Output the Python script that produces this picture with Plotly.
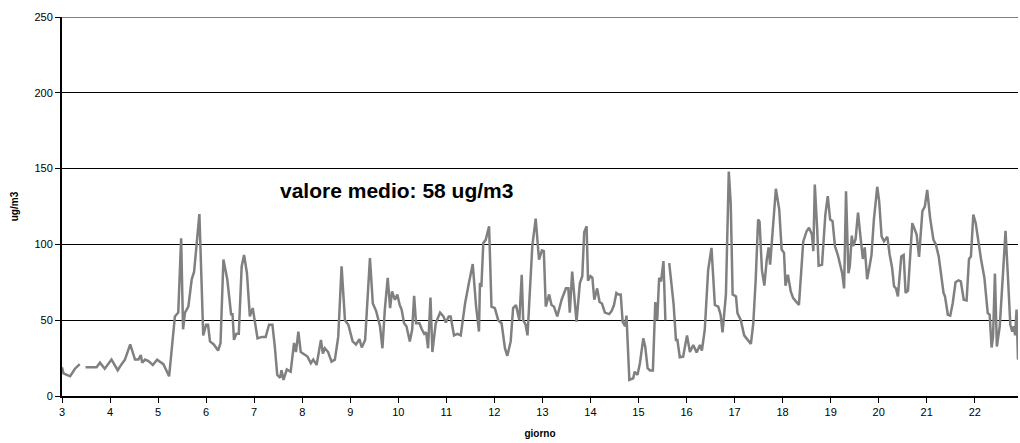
import plotly.graph_objects as go

# Time (decimal day of month) and concentration (ug/m3); None = missing data
giorno = [3.00, 3.03, 3.10, 3.17, 3.27, 3.37, 3.43,
          3.49, 3.62, 3.72, 3.79, 3.89, 4.03, 4.16, 4.24, 4.31, 4.42, 4.52, 4.59, 4.64, 4.67,
          4.73, 4.80, 4.89, 4.98, 5.11, 5.23, 5.35, 5.42, 5.48, 5.52, 5.56, 5.63, 5.70, 5.75,
          5.86, 5.94, 6.00, 6.04, 6.08, 6.16, 6.25, 6.30, 6.36, 6.44, 6.52, 6.55, 6.58, 6.63,
          6.68, 6.74, 6.79, 6.85, 6.91, 6.97, 7.00, 7.07, 7.16, 7.24, 7.31, 7.38, 7.43, 7.48,
          7.54, 7.57, 7.61, 7.68, 7.76, 7.83, 7.87, 7.92, 7.97, 8.02, 8.11, 8.18, 8.23, 8.30,
          8.35, 8.39, 8.43, 8.47, 8.54, 8.61, 8.68, 8.75, 8.82, 8.89, 8.96, 9.05, 9.12, 9.19,
          9.24, 9.31, 9.41, 9.47, 9.54, 9.62, 9.67, 9.72, 9.78, 9.83, 9.87, 9.93, 9.98, 10.03,
          10.07, 10.12, 10.17, 10.24, 10.29, 10.33, 10.37, 10.44, 10.49, 10.54, 10.58, 10.62,
          10.67, 10.71, 10.78, 10.87, 10.94, 10.99, 11.05, 11.09, 11.16, 11.23, 11.30, 11.39,
          11.47, 11.55, 11.62, 11.68, 11.70, 11.73, 11.77, 11.82, 11.89, 11.94, 12.01, 12.08,
          12.15, 12.22, 12.27, 12.34, 12.39, 12.45, 12.52, 12.57, 12.60, 12.65, 12.69, 12.74,
          12.79, 12.86, 12.93, 12.99, 13.03, 13.07, 13.14, 13.19, 13.24, 13.31, 13.40, 13.49,
          13.54, 13.57, 13.62, 13.71, 13.78, 13.83, 13.87, 13.92, 13.95, 14.00, 14.04, 14.08,
          14.14, 14.19, 14.24, 14.30, 14.39, 14.44, 14.49, 14.54, 14.58, 14.63, 14.67, 14.72,
          14.75, 14.81, 14.89, 14.92, 14.98, 15.03, 15.10, 15.14, 15.19, 15.24, 15.30, 15.35,
          15.39, 15.43, 15.47, 15.52, 15.56, 15.60,
          15.64, 15.73, 15.78, 15.81, 15.86, 15.93, 16.01, 16.07, 16.14, 16.21, 16.28, 16.32,
          16.38, 16.45, 16.52, 16.59, 16.66, 16.71, 16.75, 16.82, 16.88, 16.92, 16.96, 17.03,
          17.06, 17.13, 17.20, 17.27, 17.34, 17.39, 17.44, 17.49, 17.52, 17.57, 17.62, 17.67,
          17.71, 17.74, 17.79, 17.86, 17.93, 17.98, 18.03, 18.06, 18.11, 18.17, 18.22, 18.29,
          18.34, 18.43, 18.50, 18.55, 18.61, 18.64, 18.67, 18.72, 18.75, 18.82, 18.85, 18.89,
          18.94, 18.99, 19.04, 19.09, 19.15, 19.20, 19.24, 19.28, 19.32, 19.37, 19.40, 19.44,
          19.47, 19.52, 19.57, 19.62, 19.67, 19.71, 19.76, 19.81, 19.85, 19.90, 19.97, 20.01,
          20.06, 20.11, 20.18, 20.23, 20.28, 20.32, 20.36, 20.40, 20.47, 20.52, 20.56, 20.61,
          20.70, 20.79, 20.84, 20.91, 20.96, 21.01, 21.07, 21.14, 21.19, 21.25, 21.30, 21.35,
          21.38, 21.44, 21.49, 21.54, 21.60, 21.66, 21.71, 21.77, 21.83, 21.88, 21.92, 21.97,
          22.02, 22.07, 22.13, 22.20, 22.27, 22.31, 22.35, 22.38, 22.42, 22.46, 22.52, 22.59,
          22.64, 22.69, 22.74, 22.78, 22.81, 22.84, 22.87, 22.90]

concentrazione = [19, 15, 14, 13, 18, 21, None,
                  19, 19, 19, 22, 18, 24, 17, 21, 24, 34, 24, 24, 27, 22,
                  24, 23, 20.5, 24, 21, 13, 52.5, 55, 104, 44, 55, 59, 77, 82,
                  120, 40, 47, 47, 36, 34, 30, 35, 90, 77, 54, 54, 37, 41,
                  41, 85.5, 93, 81, 52.5, 58, 52.5, 38, 39, 39, 47, 47, 32.6, 14,
                  12, 17, 10.6, 17.6, 16, 35, 29, 42.5, 29, 28, 26, 21.6, 24, 20.5,
                  29, 37, 28, 31.5, 29, 22.7, 24, 39, 85.5, 50, 47, 36, 34, 37.5,
                  32, 37, 91, 61, 56, 46, 31.5, 57, 78, 58, 69, 63.5, 67, 60,
                  57, 48, 46, 36, 44, 66, 48, 48, 44, 41, 42, 31.5,
                  65, 29, 48, 55, 52.5, 48.5, 52.5, 52.5, 40, 41, 40, 61,
                  74.5, 87, 59, 42.5, 74.5, 72, 101, 103, 112, 59, 58, 50,
                  48, 31.5, 26.5, 36, 58, 60, 50, 80, 50, 47, 40, 70,
                  99, 117, 90, 96, 95.5, 59, 67, 60, 59, 52.5, 63.5, 71,
                  71, 55, 82, 49, 74.5, 79, 108, 112, 76, 79, 78, 63.5,
                  71, 62, 61, 55, 54, 56, 60, 68, 67, 67, 49, 46,
                  53, 10.6, 11.7, 16, 14, 21.6, 38, 32.6, 18.3, 16.8, 16.8, 62,
                  50, 78, 75.6, 89, 50, None,
                  87.7, 61, 37, 37, 25.6, 26, 40, 29, 33.7, 28.7, 33.7, 30,
                  43.7, 83, 97.7, 60, 59, 53.6, 42, 67, 148, 127, 67, 65.7,
                  54.7, 50, 40, 37, 34.4, 48, 76.7, 116.4, 115, 83, 72.8, 90,
                  98, 86.6, 108.7, 136.7, 123, 96.6, 94.4, 72.8, 80, 69, 64.6, 61.7,
                  60, 102, 108.7, 111, 106.5, 95.5, 139.5, 110, 86, 86.6, 98.8, 119.7,
                  131.8, 116.4, 115.3, 98.8, 93, 85.5, 81, 71, 135, 81, 86, 105.8,
                  98.8, 103.6, 121, 105.4, 90.4, 98, 77, 85.5, 93, 116.4, 138, 128.5,
                  105.4, 102, 105, 93, 84.4, 72.3, 71, 65.7, 92, 93, 68, 69.5,
                  114, 106.5, 91.7, 122, 125, 136, 117.5, 103, 100, 92, 80, 68,
                  65.7, 53.6, 53, 61, 75, 76.3, 75.6, 63.5, 63, 90.4, 92, 119.7,
                  114, 103, 90.4, 78, 54.7, 53.6, 32, 39, 80.7, 32.6, 46, 82,
                  109, 79, 47, 42.5, 46, 40, 57, 24]

tick_giorni = list(range(3, 23))
tick_y = [0, 50, 100, 150, 200, 250]
media_testo = "valore medio: 58 ug/m3"

FONT = "Liberation Sans, Arial, sans-serif"

fig = go.Figure()
fig.add_trace(go.Scatter(
    x=giorno, y=concentrazione, mode="lines",
    line=dict(color="#808080", width=2.5),
    connectgaps=False, showlegend=False, hoverinfo="skip"))

fig.add_shape(type="line", xref="paper", yref="y", x0=0, x1=1, y0=250, y1=250,
              line=dict(color="#808080", width=2))

fig.add_annotation(x=9.96, y=135.5, xref="x", yref="y", text="<b>" + media_testo + "</b>",
                   showarrow=False, font=dict(family=FONT, size=21, color="black"))

fig.update_layout(
    width=1020, height=443,
    margin=dict(l=62, r=2, t=17, b=47),
    paper_bgcolor="white", plot_bgcolor="white",
    font=dict(family=FONT, size=11, color="black"),
    xaxis=dict(range=[3, 22.9], tickmode="array", tickvals=tick_giorni,
               ticktext=[str(t) for t in tick_giorni],
               showgrid=False, zeroline=False, showline=True, linecolor="black", linewidth=1.5,
               ticks="outside", ticklen=5, tickcolor="black", tickfont=dict(size=11),
               title=dict(text="<b>giorno</b>", font=dict(size=10), standoff=13)),
    yaxis=dict(range=[0, 250], tickmode="array", tickvals=tick_y,
               showgrid=True, gridcolor="black", gridwidth=1, zeroline=False,
               showline=True, linecolor="black", linewidth=2,
               ticks="outside", ticklen=5, tickcolor="black", tickfont=dict(size=11),
               title=dict(text="<b>ug/m3</b>", font=dict(size=10), standoff=14)),
)

fig.write_html("out.html")
